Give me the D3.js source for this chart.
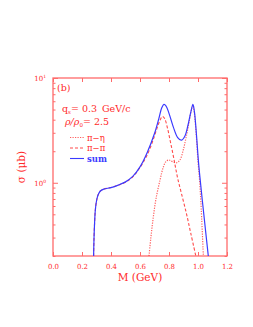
<!DOCTYPE html>
<html>
<head>
<meta charset="utf-8">
<script src="https://cdn.jsdelivr.net/npm/d3@7"></script>
<style>
  body { margin: 0; background: #fff; }
  text { font-family: "DejaVu Serif", "Liberation Serif", serif; }
</style>
</head>
<body>
<div id="wrapper"></div>
<script>
// sum (solid blue)
const sumM = [0.28, 0.283, 0.287, 0.292, 0.30, 0.31, 0.325, 0.35, 0.40, 0.45, 0.50, 0.55, 0.60, 0.65, 0.70, 0.73, 0.75, 0.765, 0.78, 0.80, 0.83, 0.86, 0.885, 0.91, 0.93, 0.95, 0.965, 0.975, 0.99, 1.00, 1.01, 1.04, 1.071];
const sumV = [0.2, 0.3, 0.42, 0.55, 0.67, 0.76, 0.83, 0.87, 0.9, 0.95, 1.02, 1.15, 1.42, 1.95, 2.95, 4.1, 5.2, 5.6, 5.4, 4.6, 3.4, 2.7, 2.55, 2.8, 3.5, 4.7, 5.6, 4.8, 2.8, 1.8, 1.25, 0.5, 0.2];
// pi-pi (dashed)
const pipiM = [0.28, 0.283, 0.287, 0.292, 0.30, 0.31, 0.325, 0.35, 0.40, 0.45, 0.50, 0.55, 0.60, 0.65, 0.69, 0.72, 0.74, 0.755, 0.77, 0.79, 0.81, 0.83, 0.845, 0.86, 0.88, 0.92, 0.95, 0.985];
const pipiV = [0.2, 0.3, 0.42, 0.55, 0.67, 0.76, 0.83, 0.87, 0.9, 0.95, 1.01, 1.14, 1.4, 1.85, 2.55, 3.4, 4.0, 4.3, 4.1, 3.3, 2.45, 1.8, 1.4, 1.1, 0.85, 0.51, 0.33, 0.2];
// pi-eta (dotted)
const pietaM = [0.662, 0.675, 0.69, 0.71, 0.738, 0.76, 0.78, 0.80, 0.82, 0.85, 0.875, 0.90, 0.92, 0.94, 0.955, 0.965, 0.975, 0.99, 1.00, 1.01, 1.02, 1.037];
const pietaV = [0.2, 0.3, 0.45, 0.7, 1.06, 1.4, 1.6, 1.65, 1.6, 1.55, 1.65, 2.1, 2.8, 3.9, 5.0, 5.5, 4.6, 2.6, 1.6, 1.1, 0.65, 0.2];

const xTicks = [0.0, 0.2, 0.4, 0.6, 0.8, 1.0, 1.2];
const yMinor = [0.2, 0.3, 0.4, 0.5, 0.6, 0.7, 0.8, 0.9, 2, 3, 4, 5, 6, 7, 8, 9];
const yMajor = [1, 10];

const red = "#ff2a2a";
const frameCol = "#ff6a6a";
const blue = "#3a3aff";

const svg = d3.select("#wrapper").append("svg")
    .attr("width", 253)
    .attr("height", 327);

const xScale = d3.scaleLinear().domain([0, 1.2]).range([53, 227]);
const yScale = d3.scaleLog().domain([0.2, 10]).range([256, 78]);

// frame
svg.append("rect")
    .attr("x", 53).attr("y", 78)
    .attr("width", 174).attr("height", 178)
    .attr("fill", "none")
    .attr("stroke", frameCol)
    .attr("stroke-width", 1.3);

// ticks (inward, all four sides)
const gxb = svg.append("g").attr("transform", "translate(0,256)")
    .call(d3.axisBottom(xScale).tickValues(xTicks).tickSize(-4).tickFormat(d3.format(".1f")).tickPadding(8));
svg.append("g").attr("transform", "translate(0,78)")
    .call(d3.axisTop(xScale).tickValues(xTicks).tickSize(-4).tickFormat(""));

svg.append("g").attr("transform", "translate(53,0)")
    .call(d3.axisLeft(yScale).tickValues(yMinor).tickSize(-2.5).tickFormat(""));
svg.append("g").attr("transform", "translate(53,0)")
    .call(d3.axisLeft(yScale).tickValues(yMajor).tickSize(-5).tickFormat(""));
svg.append("g").attr("transform", "translate(227,0)")
    .call(d3.axisRight(yScale).tickValues(yMinor).tickSize(-2.5).tickFormat(""));
svg.append("g").attr("transform", "translate(227,0)")
    .call(d3.axisRight(yScale).tickValues(yMajor).tickSize(-5).tickFormat(""));

svg.selectAll(".domain").remove();
svg.selectAll(".tick line").attr("stroke", frameCol).attr("stroke-width", 1);
gxb.selectAll(".tick text")
    .attr("fill", red)
    .style("font-size", "7px");

// y tick labels 10^0, 10^1
yMajor.forEach(v => {
    const t = svg.append("text")
        .attr("x", 46)
        .attr("y", yScale(v) + 3)
        .attr("text-anchor", "end")
        .attr("fill", red)
        .style("font-size", "7px")
        .text("10");
    t.append("tspan")
        .attr("dy", -3)
        .style("font-size", "4.5px")
        .text(v === 1 ? "0" : "1");
});

// axis titles
svg.append("text")
    .attr("x", 140).attr("y", 281)
    .attr("text-anchor", "middle")
    .attr("fill", red)
    .style("font-size", "10.5px")
    .text("M  (GeV)");

svg.append("text")
    .attr("transform", "translate(25,167) rotate(-90)")
    .attr("text-anchor", "middle")
    .attr("fill", red)
    .style("font-size", "10.5px")
    .text("σ  (μb)");

// curves
const mk = (ms, vs) => ms.map((m, i) => ({ m: m, v: vs[i] }));
const line = d3.line()
    .x(d => xScale(d.m))
    .y(d => yScale(d.v))
    .curve(d3.curveCatmullRom.alpha(0.5));

svg.append("path")
    .attr("d", line(mk(pietaM, pietaV)))
    .attr("fill", "none")
    .attr("stroke", red)
    .attr("stroke-opacity", 0.75)
    .attr("stroke-width", 1.2)
    .attr("stroke-dasharray", "1.2,1.3");

svg.append("path")
    .attr("d", line(mk(pipiM, pipiV)))
    .attr("fill", "none")
    .attr("stroke", red)
    .attr("stroke-opacity", 0.85)
    .attr("stroke-width", 1.1)
    .attr("stroke-dasharray", "3,2");

svg.append("path")
    .attr("d", line(mk(sumM, sumV)))
    .attr("fill", "none")
    .attr("stroke", blue)
    .attr("stroke-width", 1.2);

// labels inside
svg.append("text")
    .attr("x", 57).attr("y", 91)
    .attr("fill", red)
    .style("font-size", "9.5px")
    .text("(b)");

const q = svg.append("text")
    .attr("x", 62).attr("y", 112)
    .attr("fill", red)
    .style("font-size", "9.5px");
q.append("tspan").text("q");
q.append("tspan").attr("dy", 2).style("font-size", "5.5px").text("s");
q.append("tspan").attr("dy", -2).text("=");
q.append("tspan").attr("x", 82).text("0.3");
q.append("tspan").attr("x", 102).text("GeV/c");

const r = svg.append("text")
    .attr("x", 65).attr("y", 125)
    .attr("fill", red)
    .style("font-size", "9.5px")
    .style("font-style", "italic");
r.append("tspan").text("ρ/ρ");
r.append("tspan").attr("dy", 2).style("font-size", "5.5px").style("font-style", "normal").text("0");
r.append("tspan").attr("dy", -2).style("font-style", "normal").text("=");
r.append("tspan").attr("x", 94).style("font-style", "normal").text("2.5");

const legend = [
    { label: "π−η", color: red, dash: "1.2,1.3", op: 0.75, bold: false },
    { label: "π−π", color: red, dash: "3,2", op: 0.85, bold: false },
    { label: "sum", color: blue, dash: null, op: 1, bold: true }
];
legend.forEach((d, i) => {
    const y = 137.5 + i * 10.5;
    svg.append("line")
        .attr("x1", 70).attr("x2", 84)
        .attr("y1", y).attr("y2", y)
        .attr("stroke", d.color)
        .attr("stroke-opacity", d.op)
        .attr("stroke-width", 1.1)
        .attr("stroke-dasharray", d.dash);
    svg.append("text")
        .attr("x", 87).attr("y", y + 3)
        .attr("fill", d.color)
        .style("font-size", "8.5px")
        .style("font-weight", d.bold ? "bold" : "normal")
        .text(d.label);
});
</script>
</body>
</html>
